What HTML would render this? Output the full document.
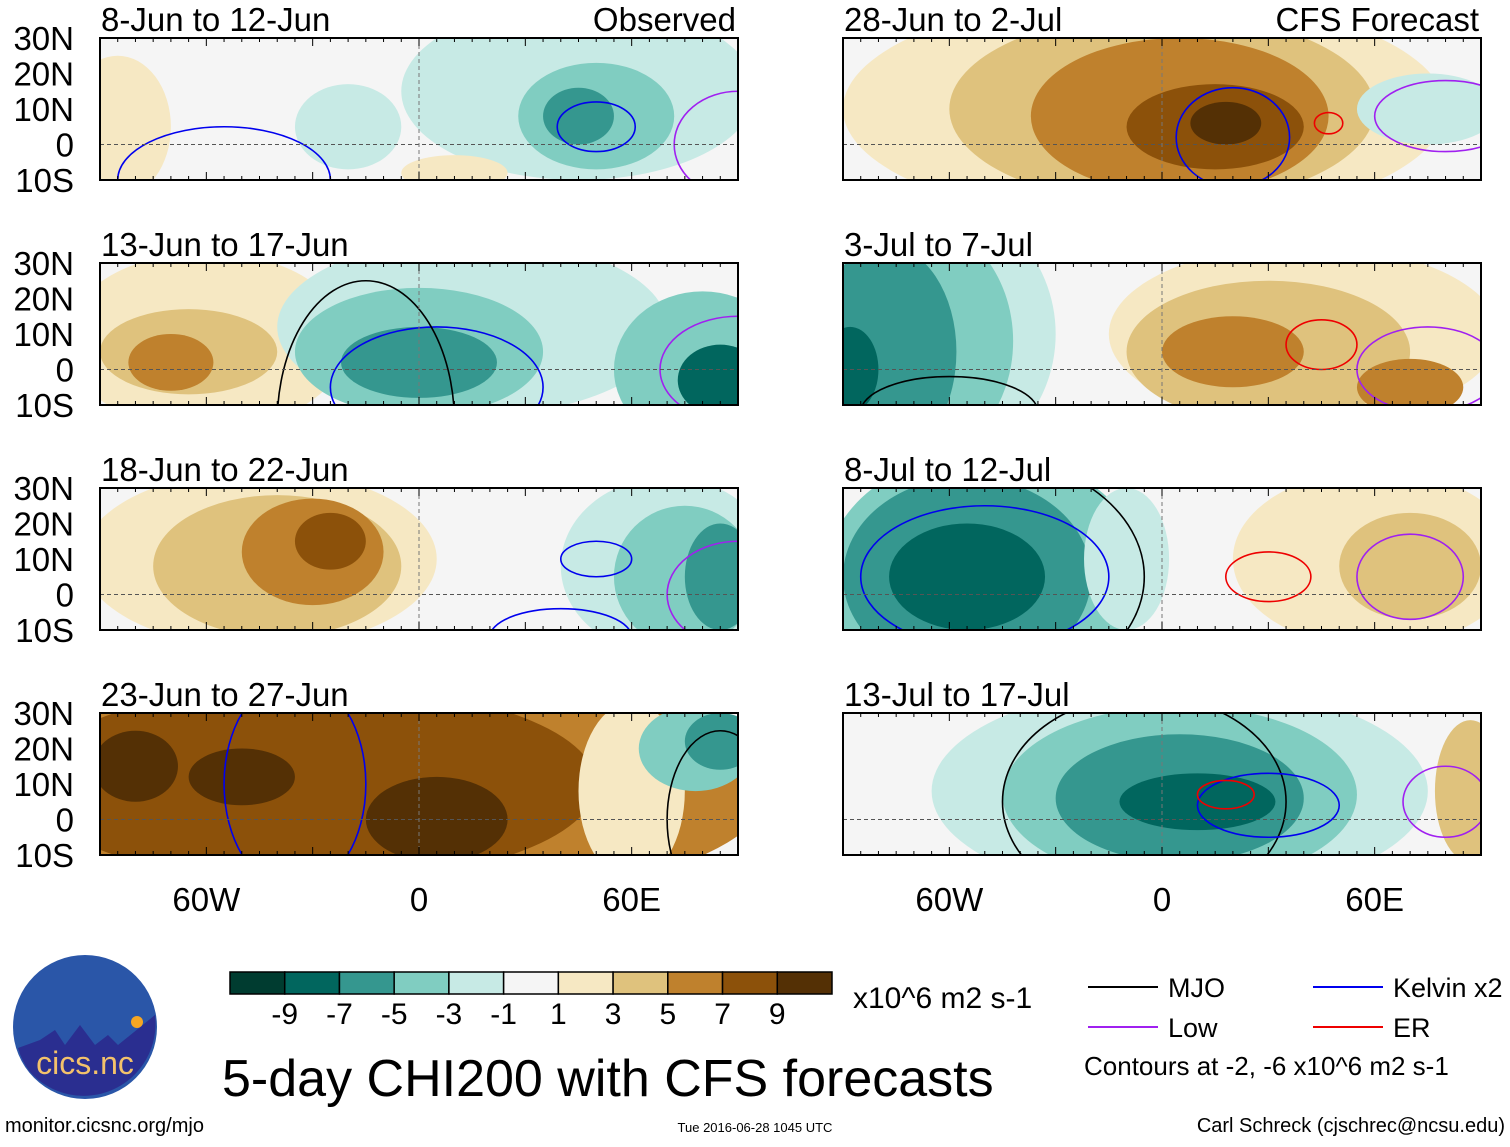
<!DOCTYPE html>
<html><head><meta charset="utf-8"><style>
body{margin:0;background:#fff;font-family:"Liberation Sans",sans-serif;}
svg text{font-family:"Liberation Sans",sans-serif;}
</style></head><body>
<svg id="fig" width="1510" height="1142" viewBox="0 0 1510 1142" xmlns="http://www.w3.org/2000/svg">
<rect width="1510" height="1142" fill="#fff"/>
</svg>
<script>
const levels = [-9,-7,-5,-3,-1,1,3,5,7,9];
const colors = ["#003c30","#01665e","#35978f","#80cdc1","#c7eae5","#f5f5f5","#f6e8c3","#dfc27d","#bf812d","#8c510a","#543005"];
const titles = ["8-Jun to 12-Jun","13-Jun to 17-Jun","18-Jun to 22-Jun","23-Jun to 27-Jun","28-Jun to 2-Jul","3-Jul to 7-Jul","8-Jul to 12-Jul","13-Jul to 17-Jul"];
const latLabels = ["30N","20N","10N","0","10S"];
const latTicks = [30,20,10,0,-10];
const lonLabels = ["60W","0","60E"];
const lonTicks = [-60,0,60];
// blobs: [lon, lat, rxDeg, ryDeg, value]
const blobs0 = [[-85,5,15,20,2],[45,15,50,25,-2],[-20,5,15,12,-2],[50,8,22,15,-4],[45,8,10,8,-6],[10,-8,15,5,2]];
const blobs1 = [[-60,8,40,25,2],[-65,5,25,12,4],[-70,2,12,8,6],[15,12,55,25,-2],[0,5,35,18,-4],[0,2,22,10,-6],[80,0,25,22,-4],[85,-3,12,10,-8]];
const blobs2 = [[-45,10,50,25,2],[-40,8,35,20,4],[-30,12,20,15,6],[-25,15,10,8,8],[70,8,30,25,-2],[75,5,20,20,-4],[85,5,10,15,-6]];
const blobs3 = [[-10,10,110,35,6],[-30,10,80,28,8],[-80,15,12,10,10],[-50,12,15,8,10],[5,0,20,12,10],[60,8,15,25,2],[78,20,16,12,-4],[85,22,10,8,-6]];
const blobs4 = [[-5,10,85,32,2],[0,10,60,27,4],[5,8,42,22,6],[15,5,25,12,8],[18,6,10,6,10],[75,10,20,10,-2]];
const blobs5 = [[-70,10,40,40,-2],[-72,8,30,35,-4],[-78,5,20,30,-6],[-88,0,8,12,-8],[40,10,55,25,2],[30,5,40,20,4],[20,5,20,10,6],[70,-5,15,8,6]];
const blobs6 = [[-50,5,45,35,-4],[-55,5,35,28,-6],[-55,5,22,15,-8],[-10,10,12,20,-2],[60,10,40,25,2],[70,8,20,15,4]];
const blobs7 = [[5,8,70,30,-2],[5,7,50,25,-4],[5,6,35,18,-6],[10,5,22,8,-8],[87,8,10,20,4]];
const blobsAll = [blobs0,blobs1,blobs2,blobs3,blobs4,blobs5,blobs6,blobs7];
// contours: [color, lon, lat, rx, ry]
const cont0 = [["#0000ee",50,5,11,7],["#0000ee",-55,-10,30,15],["#a020f0",90,0,18,15]];
const cont1 = [["#0000ee",5,-5,30,17],["#a020f0",90,0,22,15],["#000",-15,-15,25,40]];
const cont2 = [["#0000ee",50,10,10,5],["#0000ee",40,-12,20,8],["#a020f0",90,0,20,15]];
const cont3 = [["#0000ee",-35,10,20,30],["#000",85,0,15,25]];
const cont4 = [["#0000ee",20,2,16,14],["#a020f0",80,8,20,10],["#ee0000",47,6,4,3]];
const cont5 = [["#ee0000",45,7,10,7],["#a020f0",75,0,20,12],["#000",-60,-12,25,10]];
const cont6 = [["#ee0000",30,5,12,7],["#a020f0",70,5,15,12],["#0000ee",-50,5,35,20],["#000",-55,5,50,35]];
const cont7 = [["#000",-5,5,40,30],["#0000ee",30,4,20,9],["#ee0000",18,7,8,4],["#a020f0",80,5,12,10]];
const contAll = [cont0,cont1,cont2,cont3,cont4,cont5,cont6,cont7];

const NS="http://www.w3.org/2000/svg";
const svg=document.getElementById('fig');
function el(tag,attrs,parent){const e=document.createElementNS(NS,tag);for(const k in attrs)e.setAttribute(k,attrs[k]);(parent||svg).appendChild(e);return e;}
function colorFor(v){let i=0;while(i<levels.length&&v>levels[i])i++;return colors[i];}
const W=638,H=142;
const lefts=[100,843], tops=[38,263,488,713];
for(let p=0;p<8;p++){
  const px=lefts[Math.floor(p/4)], py=tops[p%4];
  const xs=lon=>px+(lon+90)/180*W, ys=lat=>py+(30-lat)/40*H;
  const g=el('g',{});
  
  
  el('clipPath',{id:'c'+p},g); el('rect',{x:px,y:py,width:W,height:H},g.lastChild);
  const inner=el('g',{'clip-path':'url(#c'+p+')'},g);
  el('rect',{x:px,y:py,width:W,height:H,fill:colors[5]},inner);
  blobsAll[p].forEach(b=>{
    const e=el('ellipse',{cx:xs(b[0]),cy:ys(b[1]),rx:b[2]/180*W,ry:b[3]/40*H,fill:colorFor(b[4])},inner);
    
    
  });
  contAll[p].forEach(c=>{
    const e=el('ellipse',{cx:xs(c[1]),cy:ys(c[2]),rx:c[3]/180*W,ry:c[4]/40*H,fill:'none',stroke:c[0],'stroke-width':1.6},inner);
    
    
  });
  el('line',{x1:px,x2:px+W,y1:ys(0),y2:ys(0),stroke:'#555','stroke-dasharray':'4,3','stroke-width':1},inner);
  el('line',{x1:xs(0),x2:xs(0),y1:py,y2:py+H,stroke:'#777','stroke-dasharray':'4,3','stroke-width':1},inner);
  el('rect',{x:px,y:py,width:W,height:H,fill:'none',stroke:'#000','stroke-width':2},g);
  for(let lon=-90;lon<=90;lon+=5){const x=xs(lon),l=(lon%30==0)?8:4;
    el('line',{x1:x,x2:x,y1:py,y2:py+l,stroke:'#000'},g);el('line',{x1:x,x2:x,y1:py+H,y2:py+H-l,stroke:'#000'},g);}
  const t=el('text',{x:px+1,y:py-7,'font-size':33},g);t.textContent=titles[p];
  
  
  if(p==0||p==4){const r=el('text',{x:px+W-2,y:py-7,'font-size':33,'text-anchor':'end'},g);r.textContent=p==0?"Observed":"CFS Forecast";}
  if(p<4){latTicks.forEach((lt,i)=>{const tt=el('text',{x:74,y:ys(lt)+12,'font-size':33,'text-anchor':'end'},g);tt.textContent=latLabels[i];
    
    });}
  if(p%4==3){lonTicks.forEach((ln,i)=>{const tt=el('text',{x:xs(ln),y:911,'font-size':33,'text-anchor':'middle'},g);tt.textContent=lonLabels[i];
    
    });}
}
// colorbar
const cb=el('g',{});


const bw=(832-230)/colors.length;
colors.forEach((c,i)=>{el('rect',{x:230+i*bw,y:972,width:bw,height:22,fill:c,stroke:'#000','stroke-width':1.5},cb);});
levels.forEach((lv,i)=>{const t=el('text',{x:230+(i+1)*bw,y:1024,'font-size':30,'text-anchor':'middle'},cb);t.textContent=lv;});
const u=el('text',{x:853,y:1008,'font-size':30},cb);u.textContent="x10^6 m2 s-1";
const title=el('text',{x:222,y:1096,'font-size':52},svg);title.textContent="5-day CHI200 with CFS forecasts";


// legend
const lg=el('g',{});


[["#000",1088,987,"MJO"],["#0000ee",1313,987,"Kelvin x2"],["#a020f0",1088,1027,"Low"],["#ee0000",1313,1027,"ER"]].forEach(l=>{
  el('line',{x1:l[1],x2:l[1]+70,y1:l[2],y2:l[2],stroke:l[0],'stroke-width':2},lg);
  const t=el('text',{x:l[1]+80,y:l[2]+10,'font-size':27},lg);t.textContent=l[3];});
const ct=el('text',{x:1084,y:1075,'font-size':26},lg);ct.textContent="Contours at -2, -6 x10^6 m2 s-1";
// logo
const logo=el('g',{});


el('circle',{cx:85,cy:1027,r:72,fill:'#2a56a8'},logo);
el('path',{d:'M18,1048 L40,1040 L55,1030 L65,1045 L80,1025 L95,1045 L108,1035 L118,1045 L155,1015 A72,72 0 0 1 30,1072 A72,72 0 0 1 18,1048Z',fill:'#2a2e90'},logo);
el('circle',{cx:137,cy:1022,r:6,fill:'#f6a623'},logo);
const lt=el('text',{x:85,y:1074,'font-size':32,'text-anchor':'middle',fill:'#f3c26b'},logo);lt.textContent="cics.nc";
const f1=el('text',{x:5,y:1132,'font-size':20},svg);f1.textContent="monitor.cicsnc.org/mjo";
const f2=el('text',{x:755,y:1132,'font-size':13,'text-anchor':'middle'},svg);f2.textContent="Tue 2016-06-28 1045 UTC";
const f3=el('text',{x:1505,y:1132,'font-size':20,'text-anchor':'end'},svg);f3.textContent="Carl Schreck (cjschrec@ncsu.edu)";
</script>
</body></html>
